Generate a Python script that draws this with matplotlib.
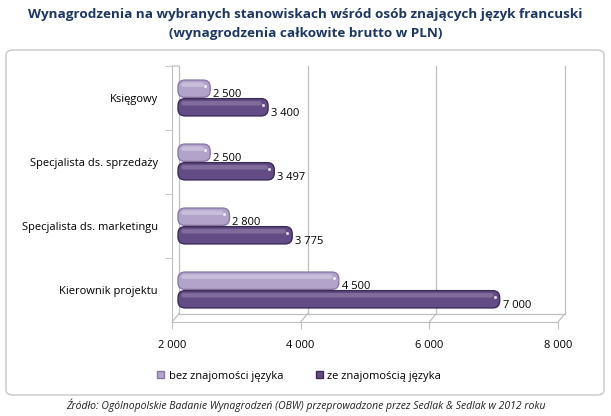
import matplotlib

matplotlib.use("Agg")
from matplotlib import pyplot as plt
from matplotlib.patches import FancyBboxPatch
from matplotlib.transforms import ScaledTranslation

# Chart data
categories = [
    "Księgowy",
    "Specjalista ds. sprzedaży",
    "Specjalista ds. marketingu",
    "Kierownik projektu",
]
bez_jezyka = [2500, 2500, 2800, 4500]
ze_jezykiem = [3400, 3497, 3775, 7000]
series_names = ["bez znajomości języka", "ze znajomością języka"]
x_ticks = [2000, 4000, 6000, 8000]

title = (
    "Wynagrodzenia na wybranych stanowiskach wśród osób znających język francuski\n"
    "(wynagrodzenia całkowite brutto w PLN)"
)
source = (
    "Źródło: Ogólnopolskie Badanie Wynagrodzeń (OBW) przeprowadzone przez "
    "Sedlak & Sedlak w 2012 roku"
)

light_color = "#B2A3CB"
light_edge = "#8A78A6"
dark_color = "#634C86"
dark_edge = "#3B2B55"
grid_color = "#BFBFBF"
title_color = "#1B3762"

fig_w_px, fig_h_px, dpi = 611, 416, 100
plt.rcParams["font.family"] = ["Open Sans", "DejaVu Sans"]


def fmt(v):
    return f"{v:,}".replace(",", " ")


fig = plt.figure(figsize=(fig_w_px / dpi, fig_h_px / dpi), dpi=dpi)

# Outer rounded frame of the chart area (px 50..395 vertically)
frame = FancyBboxPatch(
    (6 / fig_w_px, 21 / fig_h_px),
    598 / fig_w_px,
    345 / fig_h_px,
    boxstyle="round,pad=0,rounding_size=0.012",
    transform=fig.transFigure,
    facecolor="white",
    edgecolor="#C8C8C8",
    linewidth=1.0,
    zorder=-5,
)
fig.patches.append(frame)

# Axes box in pixels: left 172, right 558, top 66, bottom 320
ax_h_px = 256
ax = fig.add_axes(
    (172 / fig_w_px, (fig_h_px - 322) / fig_h_px, 386 / fig_w_px, ax_h_px / fig_h_px)
)
ax.set_xlim(2000, 8000)
ax.set_ylim(len(categories) - 0.5, -0.5)
ax.patch.set_alpha(0)

# 3D-ish depth offset of the back wall
dx_pt, dy_pt = 5, 6
depth = ScaledTranslation(dx_pt / 72, dy_pt / 72, fig.dpi_scale_trans)
back = ax.get_xaxis_transform() + depth
top_back = 1.0 - dy_pt * dpi / 72 / ax_h_px
for x in x_ticks:
    ax.plot([x, x], [0, top_back], transform=back, color=grid_color,
            linewidth=0.9, clip_on=False, zorder=0)
    ax.annotate("", xy=(x, 0), xycoords=ax.get_xaxis_transform(),
                xytext=(dx_pt, dy_pt), textcoords="offset points",
                arrowprops=dict(arrowstyle="-", color=grid_color, lw=0.9,
                                shrinkA=0, shrinkB=0))
ax.plot([2000, 8000], [0, 0], transform=back, color=grid_color, linewidth=0.9,
        clip_on=False, zorder=0)
ax.annotate("", xy=(2000, 1), xycoords=ax.get_xaxis_transform(),
            xytext=(dx_pt, 0), textcoords="offset points",
            arrowprops=dict(arrowstyle="-", color=grid_color, lw=0.9,
                            shrinkA=0, shrinkB=0))

# Bars
pos = list(range(len(categories)))
h = 0.27
off = 0.145
bars_light = ax.barh([p - off for p in pos], [v - 2000 for v in bez_jezyka],
                     left=2000, height=h, color=light_color)
bars_dark = ax.barh([p + off for p in pos], [v - 2000 for v in ze_jezykiem],
                    left=2000, height=h, color=dark_color)

# Replace the plain rectangles with rounded ones (same geometry)
x_per_px = 6000 / 386
y_per_px = 4 / ax_h_px
for bars, face, edge, hl_alpha in ((bars_light, light_color, light_edge, 0.3),
                                   (bars_dark, dark_color, dark_edge, 0.18)):
    for rect in bars:
        x0, y0 = rect.get_x(), rect.get_y()
        w, hh = rect.get_width(), rect.get_height()
        rect.set_visible(False)
        shift = 6 * x_per_px
        rounded = FancyBboxPatch(
            (x0 + shift, y0), w, hh,
            boxstyle=f"round,pad=0,rounding_size={7 * x_per_px}",
            mutation_aspect=y_per_px / x_per_px,
            facecolor=face, edgecolor=edge, linewidth=1.0, zorder=2,
        )
        ax.add_patch(rounded)
        # soft highlight along the top of the bar
        hl = FancyBboxPatch(
            (x0 + shift + 3 * x_per_px, y0 + hh * 0.14), w - 9 * x_per_px, hh * 0.26,
            boxstyle=f"round,pad=0,rounding_size={3 * x_per_px}",
            mutation_aspect=y_per_px / x_per_px,
            facecolor="white", edgecolor="none", alpha=hl_alpha, zorder=3,
        )
        ax.add_patch(hl)
        # small glint near the bar end
        ax.plot([x0 + w + shift - 5 * x_per_px], [y0 + hh * 0.35], marker="o",
                markersize=2.2, color="white", alpha=0.8, zorder=4,
                markeredgewidth=0)

# Value labels
for p, v in zip(pos, bez_jezyka):
    ax.text(v + 9 * x_per_px, p - 0.06, fmt(v), va="center", ha="left",
            fontsize=8, color="black")
for p, v in zip(pos, ze_jezykiem):
    ax.text(v + 9 * x_per_px, p + 0.24, fmt(v), va="center", ha="left",
            fontsize=8, color="black")

# Axes styling
for side in ("top", "right"):
    ax.spines[side].set_visible(False)
ax.spines["left"].set_color(grid_color)
ax.spines["bottom"].set_color(grid_color)
ax.set_xticks(x_ticks)
ax.set_xticklabels([fmt(x) for x in x_ticks])
ax.set_yticks([p + 0.5 for p in pos[:-1]] + [-0.5], minor=True)
ax.set_yticks(pos)
ax.set_yticklabels(categories)
ax.tick_params(axis="y", which="major", length=0, pad=10, labelsize=8)
ax.tick_params(axis="y", which="minor", length=5, color=grid_color)
ax.tick_params(axis="x", length=5, color=grid_color, labelsize=8, pad=8)

# Legend
handles = [
    plt.Rectangle((0, 0), 1, 1, facecolor=light_color, edgecolor=light_edge),
    plt.Rectangle((0, 0), 1, 1, facecolor=dark_color, edgecolor=dark_edge),
]
fig.legend(handles, series_names, loc="center", bbox_to_anchor=(0.49, 1 - 376 / fig_h_px),
           ncol=2, frameon=False, fontsize=8, handlelength=0.6, handleheight=0.6,
           handletextpad=0.4, columnspacing=3.0)

# Titles and source
fig.text(0.5, 1 - 24 / fig_h_px, title, ha="center", va="center", fontsize=9.7,
         fontweight="bold", color=title_color, linespacing=1.55)
fig.text(0.5, 1 - 405 / fig_h_px, source, ha="center", va="center", fontsize=7.5,
         style="italic", color="#222222")

fig.savefig("out.png", dpi=dpi)
